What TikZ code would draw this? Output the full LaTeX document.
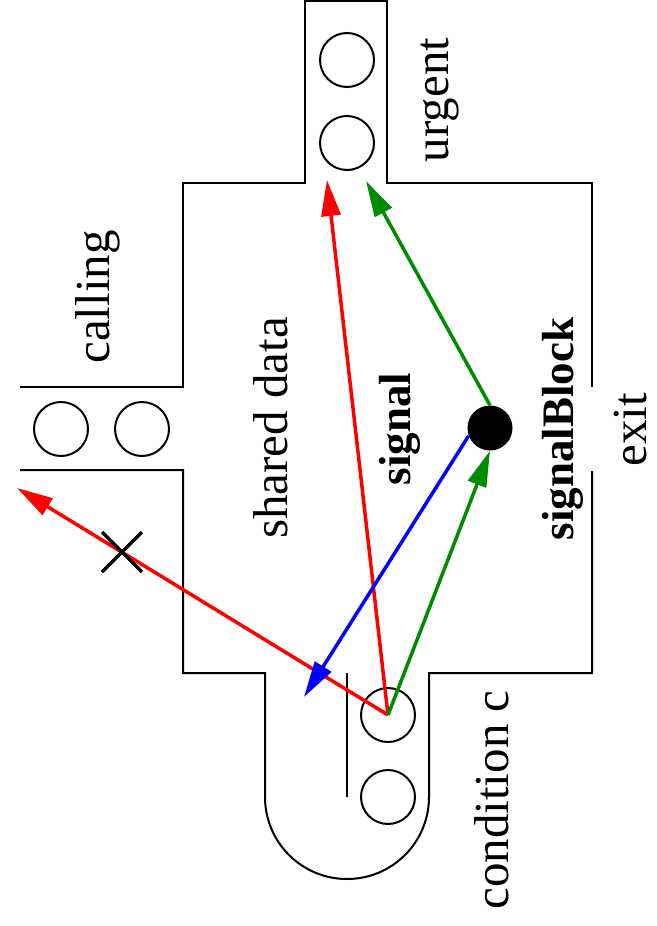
\documentclass[tikz,border=0pt]{standalone}
\usepackage{fontspec}
\setmainfont{Liberation Serif}
\usetikzlibrary{arrows.meta}
\definecolor{sigred}{rgb}{1,0,0}
\definecolor{siggreen}{rgb}{0,0.55,0}
\definecolor{sigblue}{rgb}{0,0,1}
\begin{document}
\begin{tikzpicture}[x=1pt,y=-1pt,
  wall/.style={draw=black,line width=2pt,line join=miter},
  slot/.style={circle,draw=black,line width=2pt,minimum size=54pt,inner sep=0pt},
  lbl/.style={rotate=90,anchor=base,inner sep=0pt,font=\fontsize{49}{55}\selectfont},
  blbl/.style={rotate=90,anchor=base,inner sep=0pt,font=\fontsize{45}{50}\selectfont\bfseries},
  flow/.style={line width=3.5pt,-{Triangle[length=36pt,width=19pt]}},
]
\useasboundingbox (0,0) rectangle (656,926);

% monitor outline: entry queue on the left, urgent queue on top,
% condition queue at the bottom, exit gap on the right
\draw[wall] (20,387) -- (183,387) -- (183,183) -- (305,183) -- (305,1)
  -- (387,1) -- (387,183) -- (592,183) -- (592,387);
\draw[wall] (592,471) -- (592,673) -- (429,673) -- (429,797)
  arc[start angle=0,end angle=180,radius=82] -- (265,673) -- (183,673)
  -- (183,470) -- (20,470);
\draw[wall] (347,673) -- (347,797);

% waiting processes
\node[slot] (call1) at (61,429) {};
\node[slot] (call2) at (142,429) {};
\node[slot] (urg1) at (347,60) {};
\node[slot] (urg2) at (347,143) {};
\node[slot] (cond1) at (388,715) {};
\node[slot] (cond2) at (388,797) {};

% active process
\node[circle,fill=black,minimum size=45pt,inner sep=0pt] (sb) at (490,428) {};

% labels
\node[lbl] (tUrgent) at (448,100) {urgent};
\node[lbl] (tCalling) at (109,297) {calling};
\node[lbl] (tShared) at (287,428) {shared data};
\node[blbl] (tSignal) at (410,429) {signal};
\node[blbl] (tSignalBlock) at (573,429) {signalBlock};
\node[lbl] (tExit) at (646,430) {exit};
\node[lbl] (tCond) at (508,800) {condition c};

% arrow end points
\coordinate (outTip) at (17,488);
\coordinate (urgTipR) at (327,180);
\coordinate (urgTipG) at (366,181);
\coordinate (condTip) at (304,697);

% transitions
\draw[flow,sigred] (cond1.center) -- (outTip);
\draw[flow,sigred] (cond1.center) -- (urgTipR);
\draw[flow,siggreen] (cond1.center) -- (sb.south);
\draw[flow,siggreen] (sb.north) -- (urgTipG);
\draw[flow,sigblue] (sb.200) -- (condTip);

% blocked path mark
\coordinate (xmark) at (122,552);
\draw[line width=3.5pt] ([shift={(-20,-20)}]xmark) -- ([shift={(20,20)}]xmark)
  ([shift={(-20,20)}]xmark) -- ([shift={(20,-20)}]xmark);
\end{tikzpicture}
\end{document}
